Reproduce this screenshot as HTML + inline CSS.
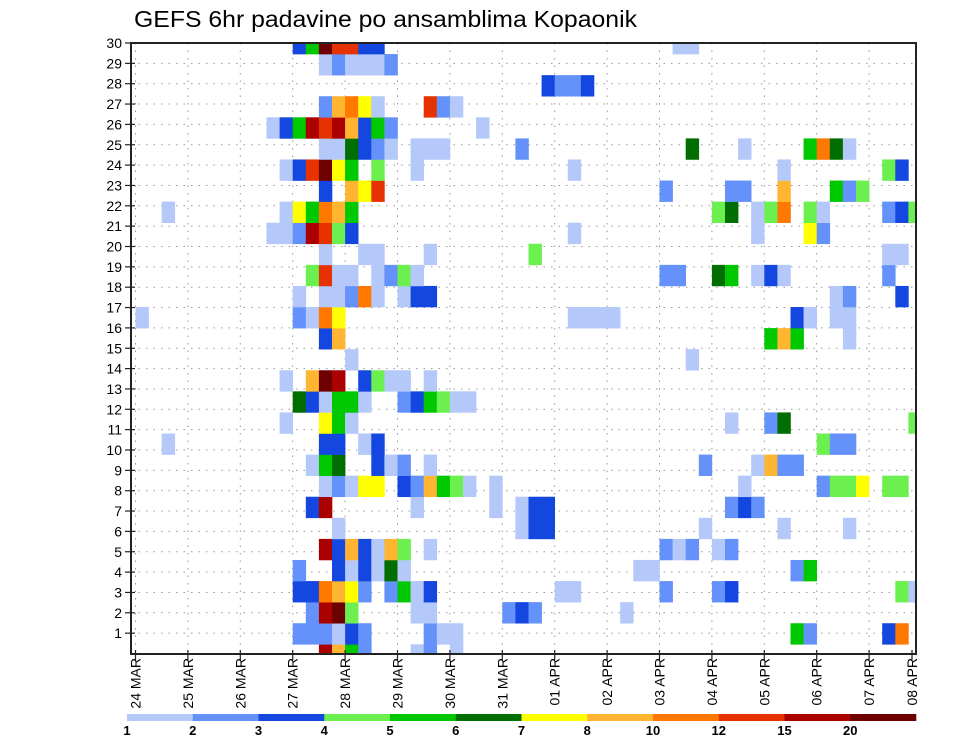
<!DOCTYPE html>
<html><head><meta charset="utf-8"><title>GEFS 6hr padavine</title>
<style>
html,body{margin:0;padding:0;background:#fff;}
svg{display:block;font-family:"Liberation Sans",sans-serif;}
</style></head>
<body>
<svg id="chart" width="960" height="742" viewBox="0 0 960 742" xmlns="http://www.w3.org/2000/svg">
<defs><clipPath id="plotclip"><rect x="131" y="43" width="785" height="611"/></clipPath></defs>
<rect x="0" y="0" width="960" height="742" fill="#fff"/>
<text x="134" y="27" font-size="23" textLength="503" lengthAdjust="spacingAndGlyphs" fill="#000">GEFS 6hr padavine po ansamblima Kopaonik</text>
<g id="grid"></g>
<g id="cells" clip-path="url(#plotclip)"></g>
<rect x="131" y="43" width="785" height="611" fill="none" stroke="#222" stroke-width="2"/>
<g id="yaxis"></g>
<g id="xaxis"></g>
<g id="colorbar"></g>
</svg>
<script>
// Ensemble members (bands 0..29, bottom to top), each "timeIndex:level" (6-hourly steps from 24 MAR 00z)
const dayLabels = ["24 MAR","25 MAR","26 MAR","27 MAR","28 MAR","29 MAR","30 MAR","31 MAR","01 APR","02 APR","03 APR","04 APR","05 APR","06 APR","07 APR","08 APR"];
const yTicks = [1,2,3,4,5,6,7,8,9,10,11,12,13,14,15,16,17,18,19,20,21,22,23,24,25,26,27,28,29,30];
const levelLabels = ["1","2","3","4","5","6","7","8","10","12","15","20"];
const levelColors = ["#b4c8fa","#6492fa","#1446e0","#6cf050","#00c800","#006e00","#ffff00","#ffb432","#ff7800","#e63200","#aa0000","#6e0000"];
const memberCells = [
"14:11,15:8,16:5,17:2,21:1,22:2,24:1",
"12:2,13:2,14:2,15:1,16:3,17:2,22:2,23:1,24:1,50:5,51:2,57:3,58:9",
"13:2,14:11,15:12,16:4,21:1,22:1,28:2,29:3,30:2,37:1",
"12:3,13:3,14:9,15:8,16:7,17:2,19:2,20:5,21:1,22:3,32:1,33:1,40:2,44:2,45:3,58:4,59:1",
"12:2,15:3,16:1,17:3,18:1,19:6,20:1,38:1,39:1,50:2,51:5",
"14:11,15:3,16:8,17:3,18:1,19:8,20:4,22:1,40:2,41:1,42:2,44:1,45:2",
"15:1,29:1,30:3,31:3,43:1,49:1,54:1",
"13:3,14:11,21:1,27:1,29:1,30:3,31:3,45:2,46:3,47:2",
"14:1,15:2,16:1,17:7,18:7,20:3,21:2,22:8,23:5,24:4,25:1,27:1,46:1,52:2,53:4,54:4,55:7,57:4,58:4",
"13:1,14:5,15:6,18:3,19:1,20:2,22:1,43:2,47:1,48:8,49:2,50:2",
"2:1,14:3,15:3,17:1,18:3,52:4,53:2,54:2",
"11:1,14:7,15:5,16:1,45:1,48:2,49:6,59:4",
"12:6,13:3,14:1,15:5,16:5,17:1,20:2,21:3,22:5,23:4,24:1,25:1",
"11:1,13:8,14:12,15:11,17:3,18:4,19:1,20:1,22:1",
"16:1,42:1",
"14:3,15:8,48:5,49:8,50:5,54:1",
"0:1,12:2,13:1,14:9,15:7,33:1,34:1,35:1,36:1,50:3,51:1,53:1,54:1",
"12:1,14:1,15:1,16:2,17:9,18:1,20:1,21:3,22:3,53:1,54:2,58:3",
"13:4,14:10,15:1,16:1,18:1,19:2,20:4,21:1,40:2,41:2,44:6,45:5,47:1,48:3,49:1,57:2",
"14:1,17:1,18:1,22:1,30:4,57:1,58:1",
"10:1,11:1,12:2,13:11,14:10,15:4,16:3,33:1,47:1,51:7,52:2",
"2:1,11:1,12:7,13:5,14:9,15:8,16:5,44:4,45:6,47:1,48:4,49:9,51:4,52:1,57:2,58:3,59:4",
"14:3,16:8,17:7,18:10,40:2,45:2,46:2,49:8,53:5,54:2,55:4",
"11:1,12:3,13:10,14:12,15:7,16:5,18:4,21:1,33:1,49:1,57:4,58:3",
"14:1,15:1,16:6,17:3,18:2,19:1,21:1,22:1,23:1,29:2,42:6,46:1,51:5,52:9,53:6,54:1",
"10:1,11:3,12:5,13:11,14:10,15:11,16:8,17:3,18:5,19:2,26:1",
"14:2,15:8,16:9,17:7,18:1,22:10,23:2,24:1",
"31:3,32:2,33:2,34:3",
"14:1,15:2,16:1,17:1,18:1,19:2",
"12:3,13:5,14:12,15:10,16:10,17:3,18:3,41:1,42:1"
];

const NS = "http://www.w3.org/2000/svg";
const X0 = 135.5, DAY = 52.4, STEP = DAY/4;
const BAND_H = 21.08, BAND0_TOP = 644.3;
const PL = 131, PR = 916, PT = 43, PB = 654;
function xTime(i){ return X0 + STEP*i; }
function xDay(d){ return X0 + DAY*d; }
function yBand(b){ return BAND0_TOP - BAND_H*b; }
function yTick(v){ return 653.5 - 20.35*v; }
function mk(tag, attrs, parent){
  const e = document.createElementNS(NS, tag);
  for (const k in attrs) e.setAttribute(k, attrs[k]);
  parent.appendChild(e); return e;
}

const grid = document.getElementById('grid');
yTicks.forEach(v => {
  const l = mk('line', {x1:PL, x2:PR, y1:yTick(v), y2:yTick(v), stroke:'#999', 'stroke-width':1, 'stroke-dasharray':'1.5 6'}, grid);
  
  
});
dayLabels.forEach((d, k) => {
  const x = xDay(k); if (x > PR) return;
  const l = mk('line', {x1:x, x2:x, y1:PT, y2:PB, stroke:'#999', 'stroke-width':1, 'stroke-dasharray':'1.5 6'}, grid);
  
  
});

const cells = document.getElementById('cells');
memberCells.forEach((row, b) => {
  if (!row) return;
  row.split(',').forEach(p => {
    const [i, lv] = p.split(':').map(Number);
    const r = mk('rect', {x:xTime(i), y:yBand(b), width:STEP+0.3, height:BAND_H+0.3, fill:levelColors[lv-1]}, cells);
    
    
  });
});

const ya = document.getElementById('yaxis');
yTicks.forEach(v => {
  const y = yTick(v);
  const t = mk('line', {x1:PL-6, x2:PL+4, y1:y, y2:y, stroke:'#222', 'stroke-width':1.2}, ya);
  
  
  const tx = mk('text', {x:PL-9, y:y+5, 'font-size':14, 'text-anchor':'end', fill:'#000'}, ya);
  tx.textContent = v;
  
  
});

const xa = document.getElementById('xaxis');
dayLabels.forEach((d, k) => {
  let x = xDay(k); if (x > PR) x = PR - 4;
  const t = mk('line', {x1:x, x2:x, y1:PB-4, y2:PB+6, stroke:'#222', 'stroke-width':1.2}, xa);
  
  
  const tx = mk('text', {x:0, y:0, 'font-size':14, 'text-anchor':'end', fill:'#000', transform:'translate(' + (x+5) + ',' + (PB+4) + ') rotate(-90)'}, xa);
  tx.textContent = d;
  
  
});

const cb = document.getElementById('colorbar');
const CB0 = 127, CB1 = 916, CBW = (CB1-CB0)/levelColors.length;
levelColors.forEach((c, k) => {
  const r = mk('rect', {x:CB0+CBW*k, y:714, width:CBW+0.3, height:7, fill:c}, cb);
  
  
  const tx = mk('text', {x:CB0+CBW*k, y:735, 'font-size':13, 'font-weight':'bold', 'text-anchor':'middle', fill:'#000'}, cb);
  tx.textContent = levelLabels[k];
  
  
});
</script>
</body></html>
